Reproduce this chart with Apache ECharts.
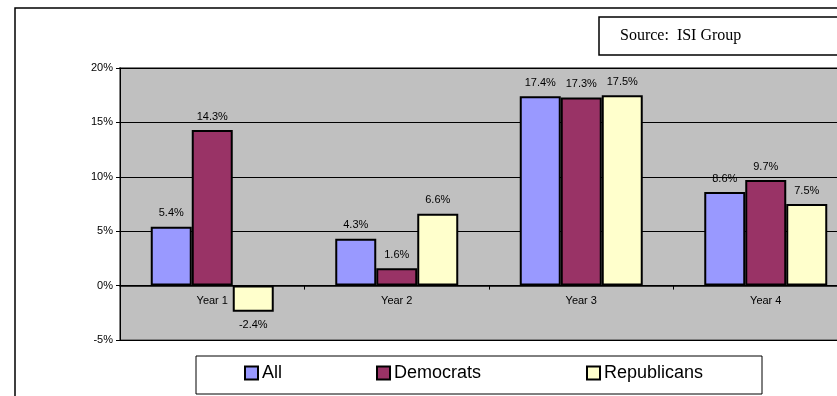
<!DOCTYPE html>
<html><head><meta charset="utf-8">
<script src="https://cdn.jsdelivr.net/npm/echarts@6/dist/echarts.min.js"></script>
<style>html,body{margin:0;padding:0;background:#fff;overflow:hidden;width:837px;height:396px;}#c{width:858px;height:396px;}</style>
</head><body><div id="c"></div>
<script>
const categories = ['Year 1', 'Year 2', 'Year 3', 'Year 4'];
const allValues = [5.4, 4.3, 17.4, 8.6];
const demValues = [14.3, 1.6, 17.3, 9.7];
const repValues = [-2.4, 6.6, 17.5, 7.5];
const seriesNames = ['All', 'Democrats', 'Republicans'];
const seriesColors = ['#9999FF', '#993366', '#FFFFCC'];
const yTicks = { min: -5, max: 20, interval: 5 };

const FONT = 'Liberation Sans, Arial, sans-serif';
const chart = echarts.init(document.getElementById('c'), null, { renderer: 'canvas' });

function mkData(vals) {
  return vals.map(v => v < 0 ? { value: v, label: { position: 'bottom' } } : v);
}
const seriesVals = [allValues, demValues, repValues];
const gridTop = 68, gridHeight = 272;
// offset of the category axis so that it sits on the zero line of the value axis
const zeroOffset = gridHeight * (0 - yTicks.min) / (yTicks.max - yTicks.min);

const option = {
  backgroundColor: '#ffffff',
  animation: false,
  grid: {
    left: 120, top: gridTop, right: 0, height: gridHeight,
    show: true, backgroundColor: '#C0C0C0', borderColor: '#808080', borderWidth: 2,
    containLabel: false
  },
  xAxis: {
    type: 'category', data: categories, position: 'bottom', offset: -zeroOffset,
    axisLine: { onZero: false, lineStyle: { color: '#000', width: 1.5 } },
    axisTick: { show: true, length: 4, lineStyle: { color: '#000' } },
    axisLabel: { color: '#000', fontSize: 11, fontFamily: FONT, margin: 10 },
    splitLine: { show: false }
  },
  yAxis: {
    type: 'value', min: yTicks.min, max: yTicks.max, interval: yTicks.interval,
    axisLine: { show: true, lineStyle: { color: '#000', width: 1 } },
    axisTick: { show: true, length: 4, lineStyle: { color: '#000' } },
    axisLabel: { color: '#000', fontSize: 11, fontFamily: FONT, margin: 7, formatter: '{value}%' },
    splitLine: { show: true, lineStyle: { color: '#000', width: 1 } }
  },
  legend: seriesNames.map((n, i) => ({
    data: [{ name: n, icon: 'rect' }], left: [244, 376, 586][i], top: 364, padding: 0,
    itemWidth: 13, itemHeight: 13, itemGap: 0,
    itemStyle: { borderColor: '#000', borderWidth: 2 },
    textStyle: { color: '#000', fontSize: 18, fontFamily: FONT, padding: [0, 0, 0, -1] }
  })),
  series: seriesNames.map((n, i) => ({
    name: n, type: 'bar', data: mkData(seriesVals[i]),
    barWidth: 41, barGap: '0%',
    itemStyle: { color: seriesColors[i], borderColor: '#000', borderWidth: 2 },
    label: {
      show: true, position: 'top', distance: 8, color: '#000', fontSize: 11, fontFamily: FONT,
      formatter: p => p.value.toFixed(1) + '%'
    }
  })),
  graphic: [
    { type: 'rect', shape: { x: 15, y: 8, width: 900, height: 500 }, style: { fill: null, stroke: '#000', lineWidth: 1.5 }, silent: true, z: 100 },
    { type: 'rect', shape: { x: 599, y: 17, width: 300, height: 38 }, style: { fill: '#fff', stroke: '#000', lineWidth: 1.5 }, silent: true, z: 100 },
    { type: 'text', x: 620, y: 36, style: { text: 'Source:  ISI Group', fill: '#000', fontSize: 16, fontFamily: 'Liberation Serif, Times New Roman, serif', verticalAlign: 'middle' }, silent: true, z: 101 },
    { type: 'rect', shape: { x: 196, y: 356, width: 566, height: 38 }, style: { fill: null, stroke: '#000', lineWidth: 1 }, silent: true, z: 100 }
  ]
};
chart.setOption(option);
</script>
</body></html>
